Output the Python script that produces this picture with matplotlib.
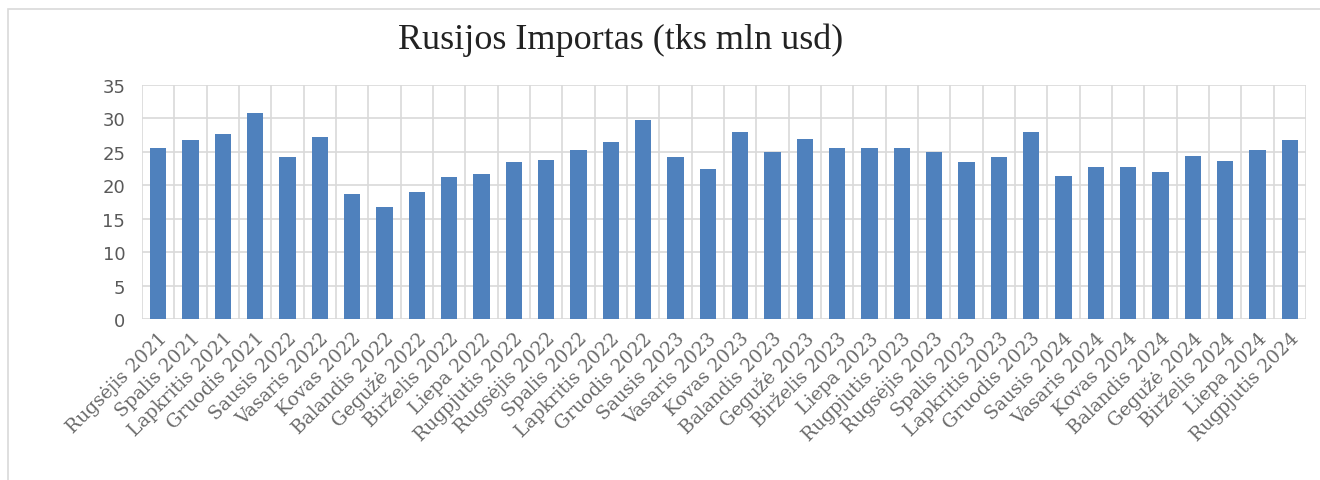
# Rusijos importas, menesiniai duomenys (tks mln usd)
import numpy as np
import matplotlib.pyplot as plt
from matplotlib.patches import Rectangle

# Duomenys
months = ['Rugsėjis', 'Spalis', 'Lapkritis', 'Gruodis',
          'Sausis', 'Vasaris', 'Kovas', 'Balandis', 'Gegužė', 'Birželis', 'Liepa', 'Rugpjutis',
          'Rugsėjis', 'Spalis', 'Lapkritis', 'Gruodis',
          'Sausis', 'Vasaris', 'Kovas', 'Balandis', 'Gegužė', 'Birželis', 'Liepa', 'Rugpjutis',
          'Rugsėjis', 'Spalis', 'Lapkritis', 'Gruodis',
          'Sausis', 'Vasaris', 'Kovas', 'Balandis', 'Gegužė', 'Birželis', 'Liepa', 'Rugpjutis']
years = [2021] * 4 + [2022] * 12 + [2023] * 12 + [2024] * 8
imports = [25.6, 26.8, 27.7, 30.8, 24.2, 27.2, 18.7, 16.7, 19.0, 21.2, 21.7, 23.5,
           23.8, 25.3, 26.4, 29.7, 24.3, 22.5, 28.0, 24.9, 26.9, 25.6, 25.6, 25.6,
           24.9, 23.5, 24.3, 27.9, 21.4, 22.8, 22.7, 22.0, 24.4, 23.6, 25.2, 26.7]
yticks = [0, 5, 10, 15, 20, 25, 30, 35]

labels = [f'{m} {y}' for m, y in zip(months, years)]
x = np.arange(len(imports))

fig = plt.figure(figsize=(13.2, 4.81), dpi=100)
ax = fig.add_axes([0.1076, 0.3347, 0.8818, 0.4866])

# remelis aplink visa grafika
fig.patches.append(Rectangle((8 / 1320, -0.1), 1.2, 1 - 10 / 481 + 0.1, transform=fig.transFigure,
                             fill=False, edgecolor='#d9d9d9', linewidth=1.2))

ax.bar(x, imports, width=0.5, color='#4f81bd', zorder=3)

ax.set_xlim(-0.5, len(imports) - 0.5)
ax.set_ylim(0, 35)
ax.set_yticks(yticks)
ax.set_xticks(x)
ax.set_xticklabels(labels, rotation=45, ha='right', rotation_mode='anchor',
                   family='DejaVu Serif', fontsize=13.5, color='#6a6a6a')
ax.tick_params(axis='y', labelsize=13, labelcolor='#595959', length=0, pad=12)
ax.tick_params(axis='x', length=0, pad=7)
for t in ax.get_yticklabels():
    t.set_family('Liberation Sans Narrow')

# tinklelis
ax.set_xticks(np.arange(-0.5, len(imports), 1), minor=True)
ax.grid(axis='y', color='#d9d9d9', linewidth=1.2, zorder=0)
ax.grid(axis='x', which='minor', color='#d9d9d9', linewidth=1.2, zorder=0)
ax.tick_params(which='minor', length=0)
for s in ax.spines.values():
    s.set_visible(False)

fig.text(0.47, 0.917, 'Rusijos Importas (tks mln usd)', ha='center', va='center',
         family='Liberation Serif', fontsize=26, color='#222222')

plt.savefig('out.png', dpi=100)
